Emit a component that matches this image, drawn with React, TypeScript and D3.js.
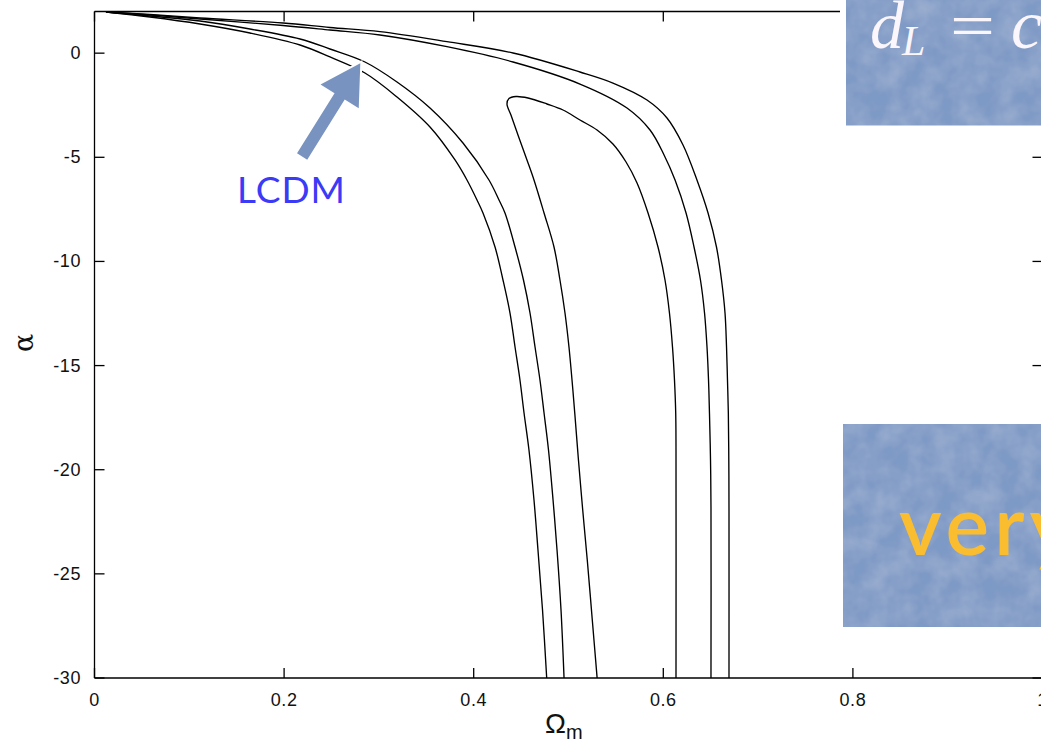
import React from "react";
import * as d3 from "d3";

// ---- data (Ωm, α) ----
const outerLeft: [number, number][] = [
  [0.0121, 1.976], [0.0585, 1.736], [0.1113, 1.4], [0.164, 0.968], [0.2168, 0.392],
  [0.2484, -0.184], [0.2853, -0.953], [0.3191, -2.105], [0.3539, -3.545], [0.3803, -5.129],
  [0.3929, -6.09], [0.4035, -7.05], [0.4098, -7.674], [0.4225, -9.307], [0.4309, -10.891],
  [0.4383, -12.476], [0.4436, -14.108], [0.4488, -15.692], [0.4531, -17.277], [0.4583, -19.053],
  [0.4636, -21.454], [0.4678, -23.854], [0.4726, -26.735], [0.477, -30],
];
const middleLeft: [number, number][] = [
  [0.0121, 1.976], [0.0585, 1.784], [0.1113, 1.544], [0.164, 1.16], [0.2168, 0.68],
  [0.2484, 0.2], [0.2853, -0.424], [0.3191, -1.385], [0.3539, -2.633], [0.3887, -4.313],
  [0.4161, -6.09], [0.4267, -7.05], [0.433, -7.674], [0.4436, -9.307], [0.4525, -10.891],
  [0.4594, -12.476], [0.4647, -14.108], [0.4699, -15.692], [0.4742, -17.277], [0.4789, -19.053],
  [0.4837, -21.454], [0.4879, -23.854], [0.4921, -26.735], [0.4953, -30],
];
const outerRight: [number, number][] = [
  [0.0121, 1.976], [0.0585, 1.856], [0.1113, 1.688], [0.1989, 1.448], [0.2484, 1.232],
  [0.3011, 1.03], [0.3718, 0.55], [0.4415, 0.008], [0.5121, -0.904], [0.5469, -1.433],
  [0.5828, -2.249], [0.6039, -3.113], [0.6208, -4.409], [0.6355, -6.09], [0.6472, -7.674],
  [0.6561, -9.307], [0.6614, -10.891], [0.6651, -12.476], [0.6667, -14.108], [0.6677, -15.692],
  [0.6686, -17.277], [0.6691, -19.533], [0.6693, -21.934], [0.6693, -30],
];
const middleRight: [number, number][] = [
  [0.0121, 1.976], [0.0585, 1.832], [0.1113, 1.64], [0.1989, 1.328], [0.2484, 1.112],
  [0.3011, 0.872], [0.3718, 0.31], [0.4415, -0.424], [0.5121, -1.481], [0.5617, -2.633],
  [0.586, -3.689], [0.6008, -4.889], [0.6124, -6.09], [0.624, -7.674], [0.6324, -9.307],
  [0.6392, -10.891], [0.6435, -12.476], [0.6461, -14.108], [0.6477, -15.692], [0.6487, -17.277],
  [0.6498, -19.533], [0.6503, -21.79], [0.6503, -30],
];
const innerLoop: [number, number][] = [
  [0.5302, -30], [0.5251, -27.215], [0.5198, -24.334], [0.515, -21.934], [0.5105, -19.533],
  [0.5066, -17.277], [0.5037, -15.692], [0.5005, -14.108], [0.4963, -12.476], [0.491, -10.891],
  [0.4847, -9.307], [0.4742, -7.674], [0.4636, -6.09], [0.4562, -5.129], [0.4467, -3.929],
  [0.4393, -2.969], [0.4351, -2.441], [0.4372, -2.177], [0.4446, -2.081], [0.4573, -2.153],
  [0.4773, -2.441], [0.4942, -2.729], [0.5121, -3.209], [0.5301, -3.689], [0.5469, -4.361],
  [0.5607, -5.226], [0.5723, -6.234], [0.5839, -7.674], [0.5944, -9.307], [0.6018, -10.891],
  [0.6065, -12.476], [0.6097, -14.108], [0.6118, -15.692], [0.6131, -17.277], [0.6134, -19.053],
  [0.6134, -30],
];
const contours = [outerLeft, middleLeft, outerRight, middleRight, innerLoop];

const xTicks = [0, 0.2, 0.4, 0.6, 0.8, 1];
const xTickLabels = ["0", "0.2", "0.4", "0.6", "0.8", "1"];
const yTicks = [0, -5, -10, -15, -20, -25, -30];
const yTickLabels = ["0", "-5", "-10", "-15", "-20", "-25", "-30"];

// annotation: LCDM arrow (data coords)
const arrowTip: [number, number] = [0.2804, -0.49];
const arrowTail: [number, number] = [0.219, -4.96];

const W = 1041;
const H = 745;
const x = d3.scaleLinear().domain([0, 1]).range([94.5, 1042.5]);
const y = d3.scaleLinear().domain([-30, 2]).range([678, 11.5]);

const line = d3
  .line<[number, number]>()
  .x((d) => x(d[0]))
  .y((d) => y(d[1]))
  .curve(d3.curveCatmullRom.alpha(0.5));

function arrowPoints(): string {
  const [tx, ty] = [x(arrowTip[0]), y(arrowTip[1])];
  const [sx, sy] = [x(arrowTail[0]), y(arrowTail[1])];
  const dx = tx - sx, dy = ty - sy;
  const L = Math.hypot(dx, dy);
  const ux = dx / L, uy = dy / L;
  const px = -uy, py = ux;
  const headLen = 39, headHalf = 22.5, shaftHalf = 6;
  const bx = tx - ux * headLen, by = ty - uy * headLen;
  const pts = [
    [sx + px * shaftHalf, sy + py * shaftHalf],
    [bx + px * shaftHalf, by + py * shaftHalf],
    [bx + px * headHalf, by + py * headHalf],
    [tx, ty],
    [bx - px * headHalf, by - py * headHalf],
    [bx - px * shaftHalf, by - py * shaftHalf],
    [sx - px * shaftHalf, sy - py * shaftHalf],
  ];
  return pts.map((p) => p.join(",")).join(" ");
}

export default function App() {
  const x0 = x(0), x1 = x(1), yTop = y(2), yBot = y(-30);
  const tickFont = "'Liberation Sans', Arial, sans-serif";
  const serif = "'Liberation Serif', 'Times New Roman', serif";
  const boxFill = "#7d99c5";
  return (
    <svg
      width={W}
      height={H}
      style={{ position: "fixed", left: 0, top: 0, background: "#fff" }}
    >
      <defs>
        <clipPath id="plot">
          <rect x={x0} y={yTop} width={x1 - x0} height={yBot - yTop} />
        </clipPath>
        <filter id="mottle" x="0" y="0" width="100%" height="100%">
          <feTurbulence type="fractalNoise" baseFrequency="0.045" numOctaves="3" seed="7" result="n" />
          <feColorMatrix
            in="n"
            type="matrix"
            values="0 0 0 0 1  0 0 0 0 1  0 0 0 0 1  0 0 0 0.22 -0.06"
            result="w"
          />
          <feComposite in="w" in2="SourceGraphic" operator="atop" />
        </filter>
      </defs>

      {/* frame */}
      <g stroke="#000" strokeWidth={1.3} fill="none">
        <line x1={x0} y1={yTop} x2={x1} y2={yTop} />
        <line x1={x0} y1={yTop} x2={x0} y2={yBot} />
        <line x1={x0} y1={yBot} x2={x1} y2={yBot} />
        <line x1={x1} y1={yTop} x2={x1} y2={yBot} />
        {xTicks.map((t) => (
          <g key={"xt" + t}>
            <line x1={x(t)} x2={x(t)} y1={yBot} y2={yBot - 10} />
            <line x1={x(t)} x2={x(t)} y1={yTop} y2={yTop + 10} />
          </g>
        ))}
        {yTicks.map((t) => (
          <g key={"yt" + t}>
            <line x1={x0} x2={x0 + 10} y1={y(t)} y2={y(t)} />
            <line x1={x1} x2={x1 - 10} y1={y(t)} y2={y(t)} />
          </g>
        ))}
      </g>

      {/* tick labels */}
      <g fontFamily={tickFont} fontSize={18} fill="#111">
        {xTicks.map((t, i) => (
          <text key={"xl" + t} x={x(t)} y={700} textAnchor="middle" dominantBaseline="central" letterSpacing={0.6}>
            {xTickLabels[i]}
          </text>
        ))}
        {yTicks.map((t, i) => (
          <text key={"yl" + t} x={81} y={y(t)} textAnchor="end" dominantBaseline="central" letterSpacing={0.6}>
            {yTickLabels[i]}
          </text>
        ))}
      </g>

      {/* axis titles */}
      <text
        transform="translate(33,343) rotate(-90)"
        fontFamily="'DejaVu Serif', serif"
        fontSize={27}
        textAnchor="middle"
        fill="#111"
      >
        α
      </text>
      <text x={545} y={733} fontFamily={tickFont} fontSize={28} fill="#111">
        Ω
        <tspan fontSize={20} dy={6}>
          m
        </tspan>
      </text>

      {/* contours */}
      <g clipPath="url(#plot)" fill="none" stroke="#000" strokeWidth={1.35}>
        {contours.map((c, i) => (
          <path key={i} d={line(c) || ""} />
        ))}
      </g>

      {/* LCDM annotation */}
      <polygon
        points={arrowPoints()}
        fill="#7893bf"
        stroke="#fff"
        strokeWidth={4}
        strokeLinejoin="miter"
        style={{ paintOrder: "stroke" }}
      />
      <text
        x={237}
        y={203}
        fontFamily="Lato, 'Noto Sans', sans-serif"
        fontSize={37}
        fill="#3a3af7"
        letterSpacing={1}
      >
        LCDM
      </text>

      {/* slide overlay boxes */}
      <rect x={840} y={0} width={W - 840} height={131} fill="#fff" />
      <rect x={846} y={0} width={W - 846} height={125.5} fill={boxFill} filter="url(#mottle)" />
      <g fill="#fbf6fb" fontFamily={serif}>
        <text x={870} y={48} fontStyle="italic" fontSize={68}>d</text>
        <text x={902} y={55} fontStyle="italic" fontSize={42}>L</text>
        <text x={950} y={47} fontSize={64} textLength={45} lengthAdjust="spacingAndGlyphs">=</text>
        <text x={1011} y={48} fontStyle="italic" fontSize={70}>c</text>
      </g>

      <rect x={837} y={418} width={W - 837} height={215} fill="#fff" />
      <rect x={843} y={424} width={W - 843} height={203} fill={boxFill} filter="url(#mottle)" />
      <text
        x={899}
        y={555}
        fontFamily="Lato, 'Noto Sans', sans-serif"
        fontWeight={600}
        fontSize={82}
        fill="#fbbd30"
        letterSpacing={5}
      >
        very
      </text>
    </svg>
  );
}
